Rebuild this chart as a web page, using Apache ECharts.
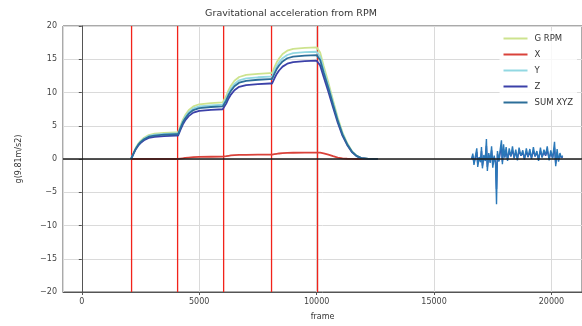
<!DOCTYPE html>
<html>
<head>
<meta charset="utf-8">
<script src="https://cdn.jsdelivr.net/npm/echarts@6/dist/echarts.min.js"></script>
<style>html,body{margin:0;padding:0;background:#fff}#c{width:582px;height:326px}</style>
</head>
<body>
<div id="c"></div>
<script>
// frames for the step curves
var frames = [2100,2200,2300,2400,2500,2650,2850,3100,3500,4000,
  4100,4200,4300,4400,4550,4750,5000,5500,6000,
  6050,6150,6250,6350,6500,6700,7000,7500,8000,
  8100,8200,8300,8400,8550,8750,9000,9500,10000,
  10050,10150,10300,10500,10700,10900,11100,11300,11500,11700,11900,12200,12600];
var gRpm = [0,0.88,1.68,2.28,2.72,3.2,3.6,3.8,3.92,4.0,
  4.0,4.99,5.89,6.57,7.33,7.92,8.23,8.41,8.5,
  8.5,9.47,10.35,11.01,11.76,12.33,12.64,12.81,12.9,
  12.9,13.76,14.54,15.12,15.79,16.29,16.57,16.72,16.8,
  16.8,16.0,14.0,11.5,8.8,6.2,4.0,2.4,1.2,0.5,0.15,0.03,0];
var xVals = [0,0,0,0,0,0,0,0,0,0,
  0,0.06,0.11,0.16,0.22,0.27,0.31,0.34,0.36,
  0.36,0.42,0.48,0.53,0.58,0.61,0.63,0.65,0.66,
  0.66,0.72,0.78,0.83,0.88,0.91,0.94,0.96,0.97,
  0.97,0.95,0.85,0.65,0.42,0.22,0.1,0.04,0.01,0,0,0,0];
var yVals = [0,0.84,1.61,2.19,2.61,3.07,3.46,3.65,3.76,3.84,
  3.84,4.79,5.65,6.30,7.04,7.6,7.9,8.07,8.16,
  8.16,9.09,9.93,10.57,11.28,11.83,12.13,12.29,12.38,
  12.38,13.21,13.96,14.52,15.16,15.64,15.91,16.06,16.13,
  16.13,15.36,13.44,11.04,8.45,5.95,3.84,2.3,1.15,0.48,0.14,0.03,0];
var zVals = [0,0.77,1.48,2.01,2.39,2.82,3.17,3.34,3.45,3.52,
  3.52,4.39,5.18,5.78,6.45,6.97,7.24,7.4,7.48,
  7.48,8.33,9.1,9.69,10.34,10.85,11.12,11.27,11.35,
  11.35,12.1,12.79,13.31,13.89,14.33,14.57,14.71,14.78,
  14.78,14.08,12.32,10.12,7.74,5.46,3.52,2.11,1.06,0.44,0.13,0.03,0];
var sumVals = [0,0.82,1.56,2.12,2.53,2.98,3.35,3.53,3.65,3.72,
  3.72,4.64,5.48,6.1,6.81,7.36,7.65,7.82,7.9,
  7.9,8.8,9.62,10.24,10.93,11.47,11.75,11.92,12.0,
  12.0,12.8,13.52,14.06,14.68,15.15,15.4,15.55,15.62,
  15.62,14.88,13.02,10.7,8.18,5.77,3.72,2.23,1.12,0.47,0.14,0.03,0];

// noisy tail
var noiseFrames = [16600,16650,16700,16760,16820,16860,16920,16980,17020,17060,
  17120,17180,17230,17270,17330,17390,17450,17500,17560,17620,
  17660,17700,17760,17820,17870,17910,17960,18010,18070,18130,
  18200,18270,18340,18410,18480,18550,18620,18700,18780,18850,
  18930,19000,19080,19150,19230,19300,19380,19450,19530,19600,
  19680,19750,19820,19900,19970,20050,20130,20180,20240,20300,
  20360,20420,20480];
var noiseSum = [0,0.8,-0.9,0.4,1.6,-1.2,0.3,-0.5,1.8,-1.4,
  0.6,-0.3,3.0,-1.8,0.9,-0.6,1.9,-1.3,0.5,-0.8,
  -6.8,1.2,-0.4,1.5,2.8,-0.8,2.2,0.2,1.8,-0.3,
  1.6,0.4,1.9,0.1,1.4,-0.2,1.7,0.5,1.3,-0.1,
  1.6,0.3,1.5,0.0,1.8,0.4,1.2,-0.3,1.7,0.2,
  1.4,0.6,1.9,-0.2,1.3,0.1,2.6,-1.1,1.5,-0.4,
  0.9,0.2,0.5];
var noiseZ = [0,0.5,-0.6,0.2,1.1,-0.8,0.2,-0.3,1.2,-1.0,
  0.4,-0.2,2.0,-1.2,0.6,-0.4,1.3,-0.9,0.3,-0.5,
  -4.5,0.8,-0.3,1.0,1.9,-0.4,1.5,0.3,1.2,0.0,
  1.1,0.4,1.3,0.2,1.0,0.1,1.2,0.5,0.9,0.1,
  1.1,0.3,1.0,0.2,1.2,0.4,0.9,0.0,1.2,0.3,
  1.0,0.5,1.3,0.1,0.9,0.2,1.7,-0.7,1.0,-0.2,
  0.6,0.2,0.3];

var eventFrames = [2120, 4080, 6040, 8080, 10040];
var seriesNames = ['G RPM', 'X', 'Y', 'Z', 'SUM XYZ'];
var colors = ['#cde38e', '#d9423a', '#92d8e2', '#3b40a8', '#2c6e99'];
var yTicks = [-20, -15, -10, -5, 0, 5, 10, 15, 20];
var xRange = [-800, 21300];

function pairs(fs, vs) { return fs.map(function (f, i) { return [f, vs[i]]; }); }

var chart = echarts.init(document.getElementById('c'), null, {renderer: 'canvas'});
function mk(name, color, data, width, z) {
  return {type: 'line', name: name, data: data, showSymbol: false, symbol: 'none', animation: false,
    z: z || 2, itemStyle: {color: color}, lineStyle: {width: width || 1.8, color: color, opacity: 1}};
}
var RED = '#f2231a';
var yMin = yTicks[0], yMax = yTicks[yTicks.length - 1];
var series = [];
eventFrames.forEach(function (f) {
  series.push(mk('event', RED, [[f, yMin], [f, yMax]], 1.3, 1));
});
series.push(mk(seriesNames[0], colors[0], pairs(frames, gRpm)));
series.push(mk(seriesNames[1], colors[1], pairs(frames, xVals)));
series.push(mk(seriesNames[2], colors[2], pairs(frames, yVals)));
series.push(mk(seriesNames[3], colors[3], pairs(frames, zVals)));
series.push(mk(seriesNames[4], colors[4], pairs(frames, sumVals)));
series.push(mk(seriesNames[3], colors[3], pairs(noiseFrames, noiseZ), 1.4));
series.push(mk(seriesNames[4], '#2a78b8', pairs(noiseFrames, noiseSum), 1.4));
series.push(mk('zero', '#1a1a1a', [[xRange[0], 0], [xRange[1], 0]], 1.6, 5));

chart.setOption({
  backgroundColor: '#fff',
  animation: false,
  title: {text: 'Gravitational acceleration from RPM', left: 'center', top: 4,
    textStyle: {fontSize: 9.5, fontWeight: 'normal', color: '#333', fontFamily: 'DejaVu Sans'}},
  legend: {data: seriesNames, orient: 'vertical', right: 5, top: 31,
    icon: 'rect', itemWidth: 24, itemHeight: 2, itemGap: 7, itemStyle: {borderWidth: 0},
    backgroundColor: 'rgba(255,255,255,0.8)', borderWidth: 0, padding: [3, 4],
    textStyle: {fontSize: 8.5, color: '#333', fontFamily: 'DejaVu Sans', padding: [0, 0, 0, 2]}},
  grid: {left: 63, right: -1, top: 26, bottom: 31, show: true, borderColor: '#555', borderWidth: 1, backgroundColor: 'transparent'},
  xAxis: {type: 'value', min: xRange[0], max: xRange[1], splitNumber: 5,
    name: 'frame', nameLocation: 'middle', nameGap: 21,
    nameTextStyle: {fontSize: 8, color: '#333', fontFamily: 'DejaVu Sans'},
    axisLine: {show: true, onZero: false, lineStyle: {color: '#555'}},
    axisTick: {show: true, length: 3, lineStyle: {color: '#555'}},
    axisLabel: {fontSize: 8, color: '#444', margin: 6, fontFamily: 'DejaVu Sans', showMinLabel: false, showMaxLabel: false,
      formatter: function (v) { return v % 5000 === 0 ? String(v) : ''; }},
    splitLine: {show: true, lineStyle: {color: '#dadada', width: 1}}},
  yAxis: {type: 'value', min: yMin, max: yMax, interval: 5,
    name: 'g(9.81m/s2)', nameLocation: 'middle', nameGap: 40, nameRotate: 90,
    nameTextStyle: {fontSize: 8, color: '#333', fontFamily: 'DejaVu Sans'},
    axisLine: {show: true, lineStyle: {color: '#555'}},
    axisTick: {show: true, length: 3, lineStyle: {color: '#555'}},
    axisLabel: {fontSize: 8, color: '#444', margin: 6, fontFamily: 'DejaVu Sans',
      formatter: function (v) { return v < 0 ? '\u2212' + (-v) : String(v); }},
    splitLine: {show: true, lineStyle: {color: '#dadada', width: 1}}},
  series: series
});
</script>
</body>
</html>
